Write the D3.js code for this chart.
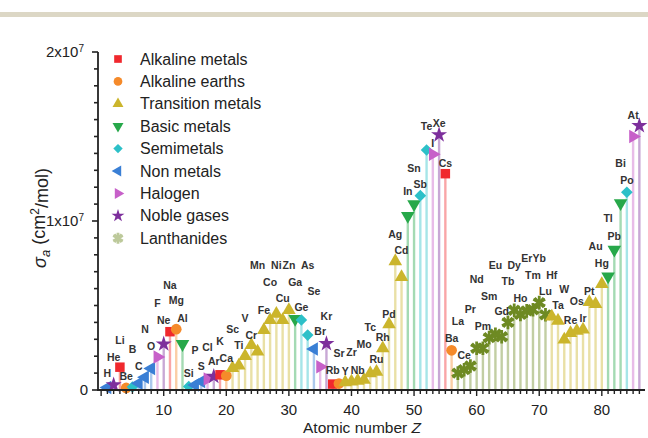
<!DOCTYPE html>
<html>
<head>
<meta charset="utf-8">
<script src="https://cdn.jsdelivr.net/npm/d3@7"></script>
<style>
body{margin:0;background:#fff;}
svg{display:block;font-family:"Liberation Sans",Arial,sans-serif;}
</style>
</head>
<body>
<script>
// element symbols, Z = 1..86
var symbols=["H","He","Li","Be","B","C","N","O","F","Ne","Na","Mg","Al","Si","P","S","Cl","Ar","K","Ca",
  "Sc","Ti","V","Cr","Mn","Fe","Co","Ni","Cu","Zn","Ga","Ge","As","Se","Br","Kr","Rb","Sr","Y","Zr",
  "Nb","Mo","Tc","Ru","Rh","Pd","Ag","Cd","In","Sn","Sb","Te","I","Xe","Cs","Ba","La","Ce","Pr","Nd",
  "Pm","Sm","Eu","Gd","Tb","Dy","Ho","Er","Tm","Yb","Lu","Hf","Ta","W","Re","Os","Ir","Pt","Au","Hg",
  "Tl","Pb","Bi","Po","At","Rn"]
// group index per element (see categories)
var groups=[5,7,0,1,4,5,5,5,6,7,0,1,3,4,5,5,6,7,0,1,
  2,2,2,2,2,2,2,2,2,2,3,4,4,5,6,7,0,1,2,2,
  2,2,2,2,2,2,2,2,3,3,4,4,6,7,0,1,8,8,8,8,
  8,8,8,8,8,8,8,8,8,8,8,2,2,2,2,2,2,2,2,2,
  3,3,3,4,6,7]
// sigma_a in units of 10^6 cm2/mol
var sigma=[0.15,0.3,1.35,0.12,0.18,0.4,0.75,1.27,1.95,2.72,3.45,3.6,2.72,0.2,0.3,0.5,0.65,0.8,0.9,0.85,
  1.3,1.45,2.0,2.66,2.27,3.55,4.14,4.5,4.14,4.73,4.2,4.14,3.25,2.43,1.38,2.74,0.35,0.38,0.45,0.5,
  0.55,0.6,0.99,1.08,2.47,3.88,7.62,6.68,10.3,11.0,11.5,14.2,13.95,15.1,12.8,2.35,1.0,1.2,1.42,2.47,
  2.47,3.1,3.3,3.15,4.0,4.72,4.47,4.68,4.75,5.17,4.45,4.35,4.1,2.98,3.37,3.5,3.57,5.2,5.09,6.27,
  6.72,8.3,11.05,11.7,15.0,15.64]
// height of each element's text label, same units (null = no label)
var labelAt=[0.99,1.93,2.96,0.83,2.41,1.38,3.59,2.6,5.13,4.1,6.21,5.28,4.24,0.99,2.37,1.38,2.53,1.67,2.86,1.88,
  3.58,2.63,4.24,3.25,7.4,4.73,6.35,7.4,5.43,7.4,6.35,4.89,7.4,5.82,3.49,4.38,1.15,2.16,1.12,2.25,
  1.18,2.72,3.73,1.79,3.14,4.5,9.23,8.28,11.73,13.14,12.19,15.58,14.62,15.8,13.43,3.08,4.04,2.07,4.78,6.55,
  3.79,5.56,7.4,4.63,6.41,7.4,5.44,7.79,6.8,7.79,5.82,6.8,5.0,5.93,4.14,5.22,4.24,5.82,8.48,7.5,
  10.16,9.07,13.41,12.43,16.27,null]
var categories=["Alkaline metals","Alkaline earths","Transition metals","Basic metals","Semimetals",
  "Non metals","Halogen","Noble gases","Lanthanides"]
var colors=["#f0282d","#f58a2a","#cbb52c","#27a84a","#2cc0c8","#3a7fd5","#c760c9","#7d2f9c","#6e8a23"]
var yTicks=[0,10,20]
var xTicks=[10,20,30,40,50,60,70,80]

var data=symbols.map(function(s,i){return {z:i+1,sym:s,g:groups[i],v:sigma[i],lab:labelAt[i]}})

var screen={width:648,height:438}
var svg=d3.select("body").append("svg")
  .attr("width",screen.width)
  .attr("height",screen.height)

// band at the top of the page crop
svg.append("rect").attr("x",0).attr("y",12).attr("width",screen.width).attr("height",5).attr("fill","#dcd7c5")

var x=d3.scaleLinear().domain([-0.5,86.9]).range([98,645])
var y=d3.scaleLinear().domain([0,20]).range([390,52])

// marker shapes per group
var shape=function(g,size){
  var s=size||1
  if(g==0){return {t:d3.symbolSquare,size:90*s,rot:0}}
  if(g==1){return {t:d3.symbolCircle,size:90*s,rot:0}}
  if(g==2){return {t:d3.symbolTriangle,size:80*s,rot:0}}
  if(g==3){return {t:d3.symbolTriangle,size:80*s,rot:180}}
  if(g==4){return {t:d3.symbolSquare,size:68*s,rot:45}}
  if(g==5){return {t:d3.symbolTriangle,size:80*s,rot:-90}}
  if(g==6){return {t:d3.symbolTriangle,size:80*s,rot:90}}
  if(g==7){return {t:d3.symbolStar,size:80*s,rot:0}}
  return {t:d3.symbolAsterisk,size:130*s,rot:0}
}
var drawMarker=function(sel,g,size){
  var sh=shape(g,size)
  var p=sel.append("path").attr("d",d3.symbol().type(sh.t).size(sh.size)()).attr("transform","rotate("+sh.rot+")")
  if(g==8){
    p.attr("fill","none").attr("stroke",colors[g]).attr("stroke-width",2.8)
    sel.append("path").attr("d",d3.symbol().type(d3.symbolTimes).size(sh.size*0.45)())
      .attr("fill","none").attr("stroke",colors[g]).attr("stroke-width",2.8)
  } else {
    p.attr("fill",colors[g])
  }
}

// stems
svg.append("g").selectAll("line").data(data).enter().append("line")
  .attr("x1",function(d){return x(d.z)}).attr("x2",function(d){return x(d.z)})
  .attr("y1",function(d){return y(d.v)}).attr("y2",y(0))
  .attr("stroke",function(d){return colors[d.g]})
  .attr("stroke-opacity",0.42)
  .attr("stroke-width",2.4)

// markers
svg.append("g").selectAll("g").data(data).enter().append("g")
  .attr("transform",function(d){return "translate("+x(d.z)+","+y(d.v)+")"})
  .each(function(d){drawMarker(d3.select(this),d.g)})

// element labels
svg.append("g").selectAll("text").data(data.filter(function(d){return d.lab!=null})).enter().append("text")
  .attr("x",function(d){return x(d.z)})
  .attr("y",function(d){return y(d.lab)})
  .attr("dy","0.35em")
  .attr("text-anchor","middle")
  .attr("font-size","10.5px")
  .attr("font-weight","bold")
  .attr("fill","#333")
  .text(function(d){return d.sym})

// y axis
var yAxis=svg.append("g")
yAxis.append("line").attr("x1",98).attr("x2",98).attr("y1",y(20)).attr("y2",y(0)+1).attr("stroke","#222").attr("stroke-width",1.8)
yAxis.selectAll("line.minor").data(d3.range(0,21)).enter().append("line")
  .attr("x1",98).attr("x2",function(d){return d%10==0?92:94})
  .attr("y1",function(d){return y(d)}).attr("y2",function(d){return y(d)})
  .attr("stroke","#222").attr("stroke-width",1.6)
var yLab=yAxis.selectAll("text").data(yTicks).enter().append("text")
  .attr("x",function(d){return d==0?88:84}).attr("y",function(d){return y(d)})
  .attr("dy","0.35em").attr("text-anchor","end")
  .attr("font-size","15px").attr("fill","#222")
yLab.each(function(d){
  var t=d3.select(this)
  if(d==0){t.text("0");return}
  t.append("tspan").text((d/10)+"x10")
  t.append("tspan").attr("dy","-0.55em").attr("font-size","10px").text("7")
})

// x axis
var xAxis=svg.append("g")
xAxis.append("line").attr("x1",97).attr("x2",645).attr("y1",390).attr("y2",390).attr("stroke","#222").attr("stroke-width",1.8)
xAxis.selectAll("line.tick").data(d3.range(0,87)).enter().append("line")
  .attr("x1",function(d){return x(d)}).attr("x2",function(d){return x(d)})
  .attr("y1",390).attr("y2",function(d){return d%10==0?396:394})
  .attr("stroke","#222").attr("stroke-width",1.4)
xAxis.selectAll("text").data(xTicks).enter().append("text")
  .attr("x",function(d){return x(d)}).attr("y",410)
  .attr("dy","0.35em").attr("text-anchor","middle")
  .attr("font-size","15px").attr("fill","#222")
  .text(function(d){return d})

var xt=svg.append("text").attr("x",362).attr("y",428).attr("dy","0.35em").attr("text-anchor","middle")
  .attr("font-size","15.5px").attr("fill","#222")
xt.append("tspan").text("Atomic number ")
xt.append("tspan").attr("font-style","italic").text("Z")

var yt=svg.append("text").attr("transform","translate(40,218) rotate(-90)").attr("text-anchor","middle")
  .attr("dy","0.35em").attr("font-size","18px").attr("fill","#222")
yt.append("tspan").attr("font-style","italic").text("\u03c3")
yt.append("tspan").attr("font-style","italic").attr("font-size","13px").attr("dy","0.3em").text("a")
yt.append("tspan").attr("dy","-0.3em").text(" (cm")
yt.append("tspan").attr("dy","-0.5em").attr("font-size","12px").text("2")
yt.append("tspan").attr("dy","0.5em").text("/mol)")

// legend
var legend=svg.append("g").attr("transform","translate(118,59)")
var rows=legend.selectAll("g").data(categories).enter().append("g")
  .attr("transform",function(d,i){return "translate(0,"+(i*22.4)+")"})
rows.each(function(d,i){
  var m=d3.select(this).append("g").attr("opacity",i==8?0.45:1)
  drawMarker(m,i,0.65)
})
rows.append("text").attr("x",22).attr("dy","0.35em")
  .attr("font-size","16px").attr("fill","#222")
  .text(function(d){return d})
</script>
</body>
</html>
